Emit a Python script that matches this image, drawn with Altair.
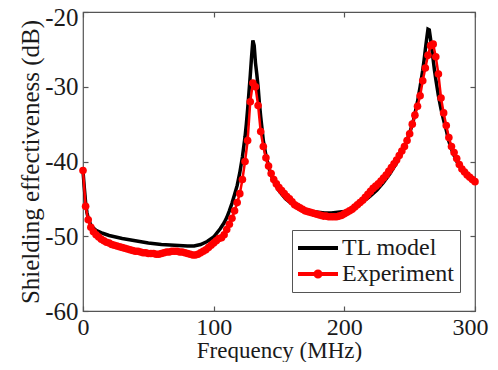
import altair as alt
import pandas as pd

# ---- data ----
model_freq = [0, 1, 2, 3, 4, 6, 8, 10, 15, 20, 30, 40, 50, 60, 70, 80, 85, 90, 95, 100,
              105, 108, 110, 112, 114, 116, 118, 120, 122, 124, 125, 126, 127, 128, 129, 130,
              131, 132, 133, 134, 135, 136, 138, 140, 143, 146, 150, 155, 160, 165, 170, 175,
              180, 185, 190, 195, 200, 205, 210, 215, 220, 225, 230, 235, 240, 245, 250, 253,
              256, 258, 260, 261, 262, 263, 264, 265, 266, 267, 268, 269, 270, 272, 274, 276,
              278, 280, 283, 286, 290, 295, 300]
model_se = [-41.3, -43.5, -45.5, -46.8, -47.6, -48.5, -48.9, -49.2, -49.6, -49.9, -50.3, -50.6,
            -50.9, -51.1, -51.2, -51.3, -51.3, -51.1, -50.7, -50.1,
            -49.0, -48.2, -47.5, -46.6, -45.6, -44.4, -43.2, -41.5, -39.4, -36.7, -35.0, -33.0,
            -30.8, -28.5, -26.0, -23.8,
            -24.5, -26.8, -28.3, -30.0, -32.2, -34.0, -37.2, -39.2, -41.3, -42.7, -43.9, -45.0,
            -45.7, -46.2, -46.5, -46.7,
            -46.8, -46.9, -46.9, -46.8, -46.7, -46.4, -45.9, -45.3, -44.6, -43.8, -42.8, -41.6,
            -40.2, -38.4, -36.2, -34.4,
            -32.0, -30.0, -27.8, -26.5, -25.0, -23.6, -22.3, -22.4, -23.6, -25.0, -26.4, -27.8,
            -29.0, -31.2, -33.0, -34.5,
            -35.8, -37.3, -38.8, -40.0, -41.0, -42.0, -42.8]

exp_freq = list(range(0, 301, 2))
exp_se = [-41.2, -46.0, -47.8, -48.8, -49.4, -49.8, -50.1, -50.4, -50.6, -50.8,
          -50.9, -51.1, -51.2, -51.3, -51.4, -51.5, -51.6, -51.7, -51.8, -51.9,
          -52.0, -52.0, -52.1, -52.2, -52.2, -52.3, -52.3, -52.3, -52.4, -52.4,
          -52.3, -52.2, -52.1, -52.1, -52.0, -52.0, -52.0, -52.1, -52.1, -52.2,
          -52.3, -52.4, -52.5, -52.5, -52.4, -52.2, -52.0, -51.8, -51.5, -51.2,
          -50.9, -50.6, -50.3, -50.2, -49.8, -49.1, -48.4, -47.6, -46.6, -45.5,
          -44.3, -42.4, -40.0, -37.2, -32.0, -29.5, -30.0, -32.5, -36.0, -38.0,
          -39.5, -40.6, -41.6, -42.4, -43.0, -43.5, -43.9, -44.3, -44.7, -45.0,
          -45.4, -45.8, -46.0, -46.2, -46.4, -46.6, -46.7, -46.8, -46.9, -47.0,
          -47.1, -47.2, -47.3, -47.3, -47.4, -47.4, -47.4, -47.4, -47.3, -47.2,
          -47.0, -46.8, -46.6, -46.4, -46.1, -45.8, -45.5, -45.2, -44.8, -44.4,
          -44.0, -43.6, -43.3, -43.0, -42.6, -42.2, -41.8, -41.3, -40.8, -40.3,
          -39.8, -39.2, -38.6, -38.0, -37.2, -36.3, -35.0, -33.8, -32.6, -31.2,
          -29.2, -27.5, -25.8, -24.5, -24.3, -26.0, -28.3, -31.5, -33.5, -35.2,
          -36.8, -38.0, -38.8, -39.6, -40.4, -41.0, -41.4, -41.8, -42.1, -42.4,
          -42.7]

series_names = ["TL model", "Experiment"]
series_colors = ["#000000", "#ff0000"]
legend_shapes = ["M-2,0L2,0",
                 "M-2,0L2,0M-0.25,0A0.25,0.25,0,1,1,0.25,0A0.25,0.25,0,1,1,-0.25,0"]
x_ticks = [0, 100, 200, 300]
y_ticks = [-60, -50, -40, -30, -20]

df_model = pd.DataFrame({"freq": model_freq, "se": model_se, "series": series_names[0]})
df_exp = pd.DataFrame({"freq": exp_freq, "se": exp_se, "series": series_names[1]})

FONT = "Liberation Serif"
TXT = "#1a1a1a"
FRAME = "#555555"

xscale = alt.Scale(domain=[0, 300], nice=False, zero=False)
yscale = alt.Scale(domain=[-60, -20], nice=False, zero=False)


def make_legend():
    return alt.Legend(
        title=None,
        orient="none",
        legendX=209,
        legendY=218,
        direction="vertical",
        fillColor="white",
        strokeColor=FRAME,
        padding=6,
        labelFont=FONT,
        labelFontSize=24,
        labelColor=TXT,
        symbolSize=400,
        symbolStrokeWidth=4,
        symbolOffset=8,
        labelOffset=12,
        rowPadding=2,
        labelLimit=300,
    )


color_scale = alt.Scale(domain=series_names, range=series_colors)
color = alt.Color("series:N", scale=color_scale, sort=series_names, legend=make_legend())

x_main = alt.X("freq:Q", scale=xscale, axis=alt.Axis(
    values=x_ticks, title="Frequency (MHz)", orient="bottom", offset=-5, tickSize=5,
    labelPadding=4.5, titlePadding=0, grid=False, domain=False, labelFlush=False,
    labelExpr="'' + datum.value",
    labelOffset=alt.condition("datum.value == 300", alt.value(-5), alt.value(0)),
    labelFont=FONT, labelFontSize=24, labelColor=TXT,
    titleFont=FONT, titleFontSize=23, titleColor=TXT, titleFontWeight="normal",
    tickColor=FRAME, tickWidth=1.2))
y_main = alt.Y("se:Q", scale=yscale, axis=alt.Axis(
    values=y_ticks, title="Shielding effectiveness (dB)", orient="left", offset=-5, tickSize=5,
    labelPadding=5, titlePadding=1, grid=False, domain=False,
    labelExpr="'' + datum.value",
    labelOffset=alt.condition("datum.value == -20", alt.value(5), alt.value(0)),
    labelFont=FONT, labelFontSize=25, labelColor=TXT,
    titleFont=FONT, titleFontSize=25, titleColor=TXT, titleFontWeight="normal",
    tickColor=FRAME, tickWidth=1.2))

model = alt.Chart(df_model).mark_line(strokeWidth=3.5).encode(x=x_main, y=y_main, color=color)

exp_line = alt.Chart(df_exp).mark_line(strokeWidth=2.5).encode(
    x=alt.X("freq:Q", scale=xscale, axis=None),
    y=alt.Y("se:Q", scale=yscale, axis=None),
    color=color,
)
exp_pts = alt.Chart(df_exp).mark_circle(size=58, opacity=1, color="#ff0000").encode(
    x=alt.X("freq:Q", scale=xscale, axis=None),
    y=alt.Y("se:Q", scale=yscale, axis=None),
)

# legend-only layer (no rows) that adds the marker to the "Experiment" legend symbol
legend_layer = alt.Chart(df_exp).mark_point(filled=False, opacity=1).encode(
    x=alt.X("freq:Q", scale=xscale, axis=None),
    y=alt.Y("se:Q", scale=yscale, axis=None),
    color=color,
    shape=alt.Shape("series:N", scale=alt.Scale(domain=series_names, range=legend_shapes),
                    sort=series_names, legend=make_legend()),
).transform_filter("datum.freq < -1000")

ghost = alt.Chart(df_model).mark_line(opacity=0).encode(
    x=alt.X("freq:Q", scale=xscale, axis=alt.Axis(
        values=x_ticks, orient="top", labels=False, title=None, offset=-5, tickSize=5,
        grid=False, domain=False, tickColor=FRAME, tickWidth=1.2)),
    y=alt.Y("se:Q", scale=yscale, axis=alt.Axis(
        values=y_ticks, orient="right", labels=False, title=None, offset=-5, tickSize=5,
        grid=False, domain=False, tickColor=FRAME, tickWidth=1.2)),
)

chart = alt.layer(model, exp_line, exp_pts, legend_layer, ghost).resolve_axis(
    x="independent", y="independent"
).properties(
    width=392,
    height=299,
    background="white",
    autosize=alt.AutoSizeParams(type="none"),
    padding={"left": 75, "top": 4, "right": 15, "bottom": 51},
).configure_view(
    stroke=FRAME, strokeWidth=1.2
)

chart.save("out.html", embed_options={"renderer": "svg", "actions": False})
